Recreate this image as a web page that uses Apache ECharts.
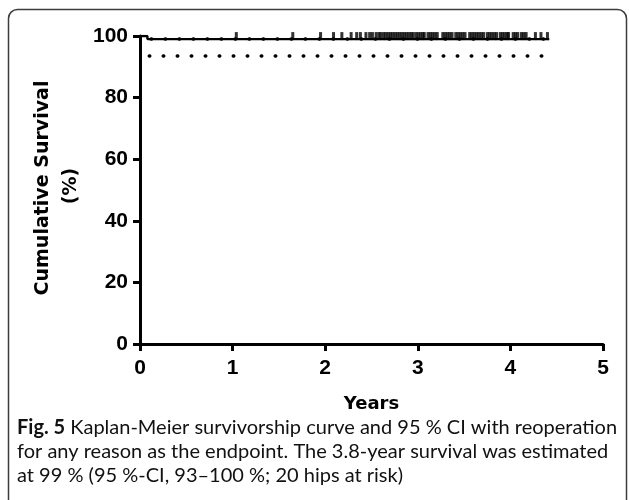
<!DOCTYPE html>
<html>
<head>
<meta charset="utf-8">
<script src="https://cdn.jsdelivr.net/npm/echarts@6/dist/echarts.min.js"></script>
<style>
html,body{margin:0;padding:0;background:#fff;}
#chart{width:629px;height:500px;}
</style>
</head>
<body>
<div id="chart"></div>
<script>
// ---- data ----
var xTicks = [0, 1, 2, 3, 4, 5];
var yTicks = [0, 20, 40, 60, 80, 100];
var survTimes = [0, 0.08, 4.42];
var survValues = [100, 99, 99];
var upperCITimes = [0.12, 4.42];
var upperCIValues = [99, 99];
var lowerCITimes = [0.1, 4.42];
var lowerCIValues = [93.5, 93.5];
var censorTimes = [1.04, 1.65, 1.95, 2.09, 2.18, 2.28, 2.34, 2.38, 2.44, 2.48, 2.51, 2.55, 2.58, 2.60,
  2.63, 2.655, 2.68, 2.705, 2.73, 2.755, 2.78, 2.805, 2.83, 2.855, 2.88, 2.905, 2.93, 2.95,
  2.98, 3.005, 3.03, 3.055, 3.07,
  3.11, 3.135, 3.16, 3.185, 3.21,
  3.27, 3.295, 3.32, 3.345, 3.37,
  3.41, 3.435, 3.46, 3.485, 3.51,
  3.56, 3.585, 3.61, 3.635, 3.66, 3.685, 3.71,
  3.75, 3.775, 3.80, 3.825, 3.85,
  3.89, 3.915, 3.94, 3.965, 3.98,
  4.03, 4.055, 4.08, 4.12, 4.145, 4.17,
  4.27, 4.33, 4.40];
var censorValue = 99;
var xTitle = 'Years';
var yTitle1 = 'Cumulative Survival';
var yTitle2 = '(%)';
var captionBold = 'Fig. 5';
var captionLines = [
  ' Kaplan-Meier survivorship curve and 95 % CI with reoperation',
  'for any reason as the endpoint. The 3.8-year survival was estimated',
  'at 99 % (95 %-CI, 93\u2013100 %; 20 hips at risk)'
];

function pairs(xs, ys) { return xs.map(function (x, i) { return [x, ys[i]]; }); }

var chart = echarts.init(document.getElementById('chart'), null, {renderer: 'canvas'});
var axisFont = {fontFamily: 'Liberation Sans, Arial, sans-serif', fontWeight: 'bold', fontSize: 21, color: '#000'};
var dotted = {color: '#000', width: 3.5, type: [0.5, 13.5], cap: 'round'};

chart.setOption({
  animation: false,
  backgroundColor: '#fff',
  grid: {left: 140, right: 26, top: 36, bottom: 156},
  xAxis: {
    type: 'value', min: 0, max: 5, interval: 1,
    axisLine: {show: true, onZero: false, lineStyle: {color: '#000', width: 3}},
    axisTick: {show: true, length: 7, lineStyle: {color: '#000', width: 3}},
    splitLine: {show: false},
    axisLabel: Object.assign({margin: 14, formatter: function (v) { return xTicks.indexOf(v) >= 0 ? String(v) : ''; }}, axisFont),
    name: xTitle, nameLocation: 'middle', nameGap: 51,
    nameTextStyle: {fontFamily: 'DejaVu Sans, sans-serif', fontWeight: 'bold', fontSize: 18, color: '#000'}
  },
  yAxis: {
    type: 'value', min: 0, max: 100, interval: 20,
    axisLine: {show: true, onZero: false, lineStyle: {color: '#000', width: 3}},
    axisTick: {show: true, length: 7, lineStyle: {color: '#000', width: 3}},
    splitLine: {show: false},
    axisLabel: Object.assign({margin: 12, formatter: function (v) { return yTicks.indexOf(v) >= 0 ? String(v) : ''; }}, axisFont)
  },
  series: [
    {type: 'line', data: pairs(lowerCITimes, lowerCIValues), showSymbol: false, lineStyle: dotted, z: 3},
    {type: 'line', data: pairs(upperCITimes, upperCIValues), showSymbol: false, lineStyle: dotted, z: 4},
    {type: 'line', step: 'end', data: pairs(survTimes, survValues), showSymbol: false,
      lineStyle: {color: '#000', width: 2.4}, z: 5},
    {type: 'scatter', data: censorTimes.map(function (t) { return [t, censorValue]; }),
      symbol: 'rect', symbolSize: [3, 8], symbolOffset: [0, -3],
      itemStyle: {color: '#000'}, z: 6}
  ],
  graphic: [
    {type: 'rect', z: 100, shape: {x: 8.5, y: 9.5, width: 618, height: 520, r: 9}, style: {fill: null, stroke: '#3c3c3c', lineWidth: 1.5}},
    {type: 'text', x: 43, y: 188, rotation: Math.PI / 2,
      style: {text: yTitle1, font: 'bold 19px "DejaVu Sans", sans-serif', fill: '#000', textAlign: 'center', textVerticalAlign: 'middle'}},
    {type: 'text', x: 71, y: 186, rotation: Math.PI / 2,
      style: {text: yTitle2, font: 'bold 19px "DejaVu Sans", sans-serif', fill: '#000', textAlign: 'center', textVerticalAlign: 'middle'}},
    {type: 'text', x: 17, y: 428,
      style: {text: '{b|' + captionBold + '}' + captionLines[0], fill: '#111', font: '20px Lato, sans-serif',
        textVerticalAlign: 'middle', rich: {b: {fontWeight: 'bold', fontSize: 20, fontFamily: 'Lato, sans-serif', fill: '#111'}}}},
    {type: 'text', x: 17, y: 452,
      style: {text: captionLines[1], fill: '#111', font: '20px Lato, sans-serif', textVerticalAlign: 'middle'}},
    {type: 'text', x: 17, y: 476,
      style: {text: captionLines[2], fill: '#111', font: '20px Lato, sans-serif', textVerticalAlign: 'middle'}}
  ]
});
</script>
</body>
</html>
